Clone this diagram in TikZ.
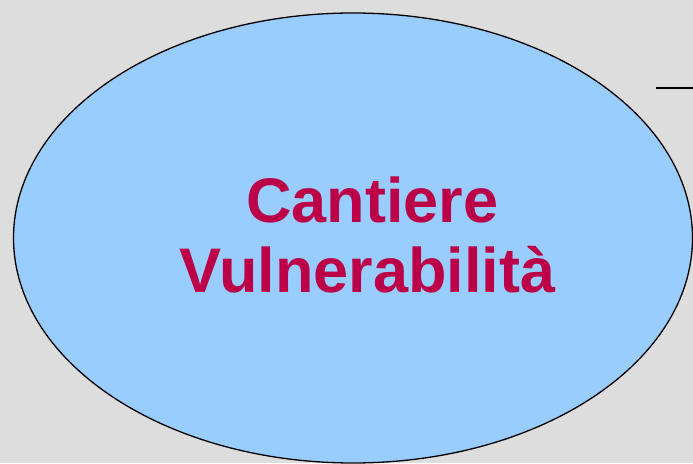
\documentclass[tikz,border=0pt]{standalone}
\usepackage{fontspec}
\setmainfont{Liberation Sans}
\definecolor{bgray}{RGB}{221,221,221}
\definecolor{skyfill}{RGB}{153,204,255}
\definecolor{crimsontxt}{RGB}{187,0,72}
\tikzset{
  title/.style={font=\fontsize{63}{70}\selectfont\bfseries, text=crimsontxt, anchor=base, inner sep=0pt},
}
\begin{document}
\begin{tikzpicture}[x=1pt,y=1pt]
\fill[bgray] (0,0) rectangle (693,463);
\useasboundingbox (0,0) rectangle (693,463);
\begin{scope}
\clip (0,0) rectangle (693,463);
\draw[fill=skyfill, line width=1.3pt] (353,225) ellipse [x radius=339.5, y radius=225];
\end{scope}
\coordinate (l1) at (656,375);
\coordinate (l2) at (693,375);
\draw[line width=2pt] (l1) -- (l2);
\node[title] (t1) at (372.5,240) {Cantiere};
\node[title] (t2) at (367.5,170) {Vulnerabilità};
\end{tikzpicture}
\end{document}
